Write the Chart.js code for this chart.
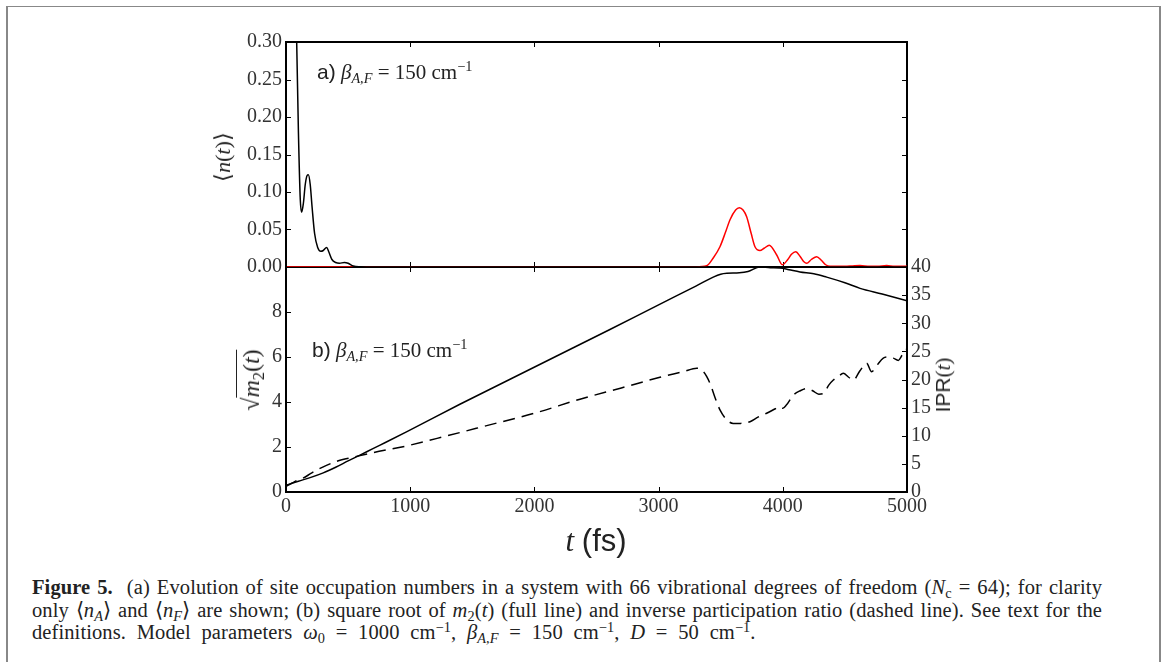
<!DOCTYPE html>
<html>
<head>
<meta charset="utf-8">
<script src="https://cdn.jsdelivr.net/npm/chart.js@4/dist/chart.umd.min.js"></script>
<style>
  html, body { margin: 0; padding: 0; background: #fff; }
  body { width: 1165px; height: 662px; position: relative; overflow: hidden; }
  canvas { position: absolute; left: 0; }
  #frame { position: absolute; left: 6px; top: 6px; width: 1151px; height: 700px;
    border-top: 1px solid #888; border-left: 2px solid #888; border-right: 2px solid #888; }
  .ann { position: absolute; white-space: nowrap; line-height: 1; color: #222; }
  .sans { font-family: "Liberation Sans", Arial, sans-serif; }
  .m { font-family: "Liberation Serif", serif; }
  .m sub, .m sup { font-size: 0.68em; line-height: 0; }
  .m sub { vertical-align: -0.28em; }
  .m sup { vertical-align: 0.55em; }
  .rot { transform: translate(-50%, -50%) rotate(-90deg); }
  #caption { position: absolute; left: 32px; top: 576px; width: 1070px;
    font-family: "Liberation Serif", serif; font-size: 20.5px; letter-spacing: 0.1px;
    line-height: 22.5px; color: #222; }
  #caption .j { text-align: justify; text-align-last: justify; white-space: nowrap; }
  #caption .last { white-space: nowrap; word-spacing: 5.5px; }
  #caption sub, #caption sup { font-size: 0.7em; line-height: 0; }
  #caption sub { vertical-align: -0.25em; }
  #caption sup { vertical-align: 0.5em; }
  .ov { border-top: 1px solid #222; padding-top: 1px; }
</style>
</head>
<body>
<div id="frame"></div>
<canvas id="topChart" width="1165" height="300" style="top:0;width:1165px;height:300px"></canvas>
<canvas id="botChart" width="1165" height="340" style="top:200px;width:1165px;height:340px"></canvas>

<div class="ann" style="left:317px; top:61px; font-size:21px;"><span class="sans">a)</span> <span class="m"><i>β</i><sub><i>A,F</i></sub> = 150 cm<sup>−1</sup></span></div>
<div class="ann" style="left:312px; top:339px; font-size:21px;"><span class="sans">b)</span> <span class="m"><i>β</i><sub><i>A,F</i></sub> = 150 cm<sup>−1</sup></span></div>
<div class="ann m rot" style="left:223px; top:157px; font-size:22px;">⟨<i>n</i>(<i>t</i>)⟩</div>
<div class="ann m rot" style="left:251px; top:380px; font-size:24px;">√<span class="ov"><i>m</i><sub>2</sub>(<i>t</i>)</span></div>
<div class="ann rot" style="left:943px; top:385px; font-size:21px;"><span class="sans">IPR</span><span class="m">(<i>t</i>)</span></div>
<div class="ann" style="left:596px; top:540px; transform: translate(-50%, -50%); font-size:31px;"><span class="m"><i>t</i></span> <span class="sans">(fs)</span></div>

<div id="caption">
  <div class="j"><b>Figure 5.</b>&nbsp; (a) Evolution of site occupation numbers in a system with 66 vibrational degrees of freedom (<i>N</i><sub>c</sub> = 64); for clarity</div>
  <div class="j">only ⟨<i>n<sub>A</sub></i>⟩ and ⟨<i>n<sub>F</sub></i>⟩ are shown; (b) square root of <i>m</i><sub>2</sub>(<i>t</i>) (full line) and inverse participation ratio (dashed line). See text for the</div>
  <div class="last">definitions. Model parameters <i>ω</i><sub>0</sub> = 1000 cm<sup>−1</sup>, <i>β</i><sub><i>A,F</i></sub> = 150 cm<sup>−1</sup>, <i>D</i> = 50 cm<sup>−1</sup>.</div>
</div>

<script>
// ---- data ----
var tTicks = [0, 1000, 2000, 3000, 4000, 5000];
var nTicks = [0, 0.05, 0.10, 0.15, 0.20, 0.25, 0.30];
var m2Ticks = [0, 2, 4, 6, 8];
var iprTicks = [0, 5, 10, 15, 20, 25, 30, 35, 40];

// panel a: <n_A> (black)
var tNA = [0, 40, 70, 86, 100, 115, 126, 140, 155, 170, 180, 195, 210, 230, 255, 280, 300, 327, 345, 370, 400, 430, 470, 500, 542, 600, 700, 5000];
var nA  = [1.0, 0.8, 0.5, 0.30, 0.18, 0.09, 0.073, 0.085, 0.11, 0.122, 0.123, 0.11, 0.08, 0.045, 0.026, 0.021, 0.022, 0.026, 0.02, 0.01, 0.006, 0.005, 0.006, 0.005, 0.0013, 0.0004, 0, 0];

// panel a: <n_F> (red)
var tNF = [0, 3300, 3387, 3440, 3494, 3540, 3575, 3620, 3650, 3680, 3709, 3745, 3776, 3816, 3850, 3891, 3951, 3996, 4040, 4070, 4104, 4140, 4170, 4192, 4230, 4273, 4310, 4345, 4380, 4500, 4560, 4621, 4700, 4760, 4836, 4900, 5000];
var nF  = [0, 0, 0.0016, 0.012, 0.027, 0.047, 0.063, 0.076, 0.079, 0.076, 0.067, 0.045, 0.027, 0.022, 0.025, 0.029, 0.016, 0.003, 0.01, 0.017, 0.0204, 0.014, 0.007, 0.005, 0.01, 0.0138, 0.009, 0.003, 0.001, 0.001, 0.0015, 0.002, 0.001, 0.001, 0.002, 0.001, 0.001];

// panel b: sqrt(m2) (full line, left axis)
var tM2 = [0, 100, 200, 300, 400, 500, 600, 700, 800, 970, 1400, 1800, 2200, 2600, 3000, 3300, 3440, 3500, 3550, 3650, 3720, 3816, 3900, 3977, 4050, 4138, 4250, 4353, 4500, 4622, 4800, 5000];
var m2  = [0.3, 0.48, 0.65, 0.85, 1.1, 1.38, 1.65, 1.93, 2.2, 2.67, 3.9, 5.0, 6.1, 7.2, 8.32, 9.15, 9.55, 9.68, 9.72, 9.74, 9.8, 10.0, 9.97, 9.96, 9.88, 9.78, 9.7, 9.55, 9.3, 9.05, 8.8, 8.5];

// panel b: IPR (dashed line, right axis)
var tIPR = [0, 50, 100, 140, 200, 274, 400, 542, 700, 972, 1300, 1616, 2000, 2367, 2700, 3011, 3200, 3307, 3360, 3414, 3454, 3494, 3550, 3601, 3660, 3736, 3800, 3870, 3940, 3977, 4000, 4030, 4084, 4140, 4192, 4240, 4290, 4326, 4370, 4407, 4450, 4487, 4530, 4568, 4620, 4675, 4715, 4760, 4809, 4850, 4890, 4930, 4960, 5000];
var ipr  = [1.0, 1.6, 2.2, 2.5, 3.3, 4.2, 5.4, 6.2, 7.0, 8.2, 10.0, 11.8, 14.0, 16.5, 18.5, 20.4, 21.4, 22.0, 21.4, 19.3, 16.8, 14.6, 12.8, 12.2, 12.2, 12.5, 13.3, 14.0, 14.8, 15.2, 14.9, 15.5, 17.2, 18.0, 18.4, 18.0, 17.4, 17.5, 19.0, 19.9, 20.6, 21.1, 20.4, 19.9, 21.5, 22.9, 21.4, 22.6, 23.8, 24.0, 23.8, 23.4, 24.3, 25.5];

function pts(xs, ys) {
  return xs.map(function (x, i) { return { x: x, y: ys[i] }; });
}

var TICK = 5;
var tickFont = { family: "'Liberation Serif', serif", size: 20 };
var tickColor = "#333";

// inward ticks + spines, matplotlib style
function framePlugin(cfg) {
  return {
    id: "frame",
    beforeDatasetsDraw: function (chart) {
      var ctx = chart.ctx, a = chart.chartArea, s = chart.scales;
      ctx.save();
      ctx.strokeStyle = "#000";
      ctx.lineWidth = 1;
      ctx.beginPath();
      tTicks.forEach(function (v) {
        var px = Math.round(s.x.getPixelForValue(v)) + 0.5;
        ctx.moveTo(px, a.top); ctx.lineTo(px, a.top + TICK);
        ctx.moveTo(px, a.bottom); ctx.lineTo(px, a.bottom - TICK);
      });
      cfg.leftTicks.forEach(function (v) {
        var py = Math.round(s[cfg.leftId].getPixelForValue(v)) + 0.5;
        ctx.moveTo(a.left, py); ctx.lineTo(a.left + TICK, py);
      });
      cfg.rightTicks.forEach(function (v) {
        var py = Math.round(s[cfg.rightId].getPixelForValue(v)) + 0.5;
        ctx.moveTo(a.right, py); ctx.lineTo(a.right - TICK, py);
      });
      ctx.stroke();
      ctx.lineWidth = 2;
      ctx.beginPath();
      if (cfg.spines.indexOf("top") >= 0) { ctx.moveTo(a.left - 1, a.top); ctx.lineTo(a.right + 1, a.top); }
      if (cfg.spines.indexOf("bottom") >= 0) { ctx.moveTo(a.left - 1, a.bottom); ctx.lineTo(a.right + 1, a.bottom); }
      if (cfg.spines.indexOf("left") >= 0) { ctx.moveTo(a.left, a.top - 1); ctx.lineTo(a.left, a.bottom + 1); }
      if (cfg.spines.indexOf("right") >= 0) { ctx.moveTo(a.right, a.top - 1); ctx.lineTo(a.right, a.bottom + 1); }
      ctx.stroke();
      ctx.restore();
    }
  };
}

function fixedTicks(arr) {
  return function (scale) {
    scale.ticks = arr.map(function (v) { return { value: v }; });
  };
}

function plain(v) { return String(v); }

var lineDefaults = {
  pointRadius: 0,
  borderWidth: 1.5,
  cubicInterpolationMode: "monotone",
  fill: false
};

// ---- panel a ----
new Chart(document.getElementById("topChart"), {
  type: "line",
  data: {
    datasets: [
      Object.assign({ data: pts(tNA, nA), borderColor: "#000" }, lineDefaults),
      Object.assign({ data: pts(tNF, nF), borderColor: "#ff0000" }, lineDefaults)
    ]
  },
  options: {
    responsive: false,
    animation: false,
    devicePixelRatio: 1,
    layout: { padding: { top: 42, right: 258, bottom: 33, left: 0 } },
    plugins: { legend: { display: false }, tooltip: { enabled: false } },
    scales: {
      x: { type: "linear", min: 0, max: 5000, display: false },
      y: {
        min: 0, max: 0.30,
        afterBuildTicks: fixedTicks(nTicks),
        afterFit: function (s) { s.width = 286; },
        grid: { display: false, drawTicks: false },
        border: { display: false },
        ticks: {
          font: tickFont, color: tickColor, padding: 4,
          callback: function (v) { return v.toFixed(2); }
        }
      }
    }
  },
  plugins: [framePlugin({
    leftId: "y", rightId: "y",
    leftTicks: nTicks, rightTicks: nTicks,
    spines: ["top", "bottom", "left", "right"]
  })]
});

// ---- panel b ----
new Chart(document.getElementById("botChart"), {
  type: "line",
  data: {
    datasets: [
      Object.assign({ data: pts(tM2, m2), borderColor: "#000", yAxisID: "y" }, lineDefaults),
      Object.assign({ data: pts(tIPR, ipr), borderColor: "#000", yAxisID: "y1", borderDash: [12, 7] }, lineDefaults)
    ]
  },
  options: {
    responsive: false,
    animation: false,
    devicePixelRatio: 1,
    layout: { padding: { top: 67, right: 0, bottom: 0, left: 0 } },
    plugins: { legend: { display: false }, tooltip: { enabled: false } },
    scales: {
      x: {
        type: "linear", min: 0, max: 5000,
        afterBuildTicks: fixedTicks(tTicks),
        afterFit: function (s) { s.height = 48; },
        grid: { display: false, drawTicks: false },
        border: { display: false },
        ticks: { font: tickFont, color: tickColor, padding: 3, maxRotation: 0, callback: plain }
      },
      y: {
        position: "left", min: 0, max: 10,
        afterBuildTicks: fixedTicks(m2Ticks),
        afterFit: function (s) { s.width = 286; },
        grid: { display: false, drawTicks: false },
        border: { display: false },
        ticks: { font: tickFont, color: tickColor, padding: 4, callback: plain }
      },
      y1: {
        position: "right", min: 0, max: 40,
        afterBuildTicks: fixedTicks(iprTicks),
        afterFit: function (s) { s.width = 258; },
        grid: { display: false, drawTicks: false },
        border: { display: false },
        ticks: { font: tickFont, color: tickColor, padding: 4, callback: plain }
      }
    }
  },
  plugins: [framePlugin({
    leftId: "y", rightId: "y1",
    leftTicks: m2Ticks, rightTicks: iprTicks,
    spines: ["bottom", "left", "right"]
  })]
});
</script>
</body>
</html>
